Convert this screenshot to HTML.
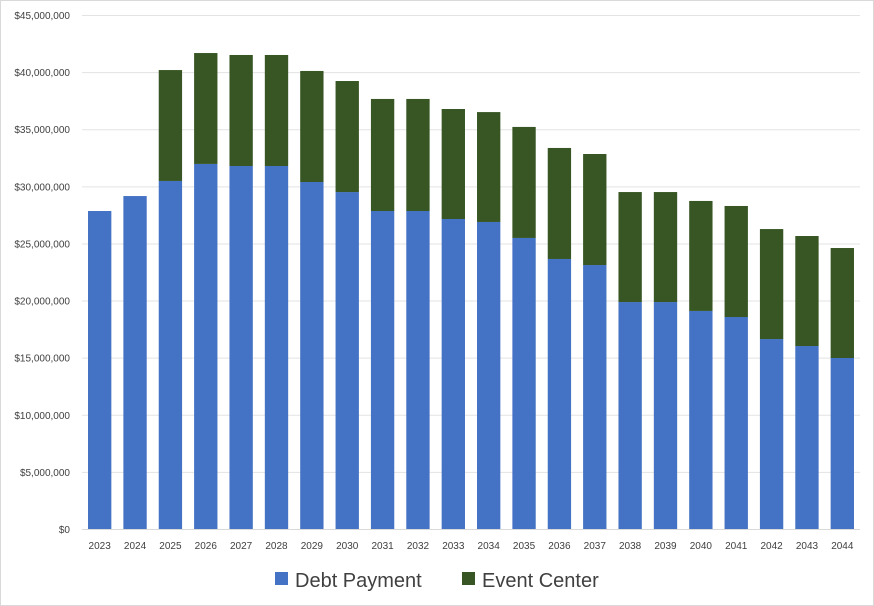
<!DOCTYPE html>
<html><head><meta charset="utf-8"><style>
body{margin:0;background:#fff;}
svg{display:block;font-family:"Liberation Sans",Arial,sans-serif;}
</style></head><body>
<svg id="chart" width="874" height="606">
<rect x="0.5" y="0.5" width="873" height="605" fill="#fff" stroke="#d9d9d9"/>
<g id="grid"></g><g id="bars"></g><g id="axes"></g>
<g>
<rect x="275" y="572" width="13" height="13" fill="#4472c4"/>
<text x="295" y="587" font-size="20" fill="#404040">Debt Payment</text>
<rect x="462" y="572" width="13" height="13" fill="#375623"/>
<text x="482" y="587" font-size="20" fill="#404040">Event Center</text>
</g>
</svg>
<script>
const categories=["2023","2024","2025","2026","2027","2028","2029","2030","2031","2032","2033","2034","2035","2036","2037","2038","2039","2040","2041","2042","2043","2044"];
const debtPayment=[27.84,29.15,30.47,31.96,31.78,31.78,30.38,29.5,27.84,27.84,27.14,26.88,25.48,23.64,23.11,19.87,19.87,19.09,18.56,16.63,16.02,14.97];
const eventCenter=[0,0,9.71,9.71,9.72,9.72,9.72,9.72,9.81,9.81,9.63,9.62,9.72,9.72,9.72,9.63,9.63,9.63,9.72,9.63,9.63,9.63];
const yTicks=[0,5,10,15,20,25,30,35,40,45];
const yTickLabels=["$0","$5,000,000","$10,000,000","$15,000,000","$20,000,000","$25,000,000","$30,000,000","$35,000,000","$40,000,000","$45,000,000"];
const NS="http://www.w3.org/2000/svg";
const x0=82,x1=860,yBase=529,yTop=15,yMax=45;
const step=(x1-x0)/categories.length,bw=step*0.66;
const y=v=>yBase-(v/yMax)*(yBase-yTop);
const xc=i=>x0+step*(i+0.5);
function mk(t,a,p){const e=document.createElementNS(NS,t);for(const k in a)e.setAttribute(k,a[k]);p.appendChild(e);return e;}
const grid=document.getElementById('grid'),bars=document.getElementById('bars'),axes=document.getElementById('axes');
yTicks.forEach((t,i)=>{
 const l=mk('line',{x1:x0,x2:x1,y1:y(t)+0.5,y2:y(t)+0.5,stroke:i==0?'#d9d9d9':'#e3e3e3'},grid);
 
 
 const tx=mk('text',{x:x0-12,y:y(t)+4,'font-size':10,fill:'#404040','text-anchor':'end'},axes);
 tx.textContent=yTickLabels[i];
 
 
});
categories.forEach((c,i)=>{
 const b=mk('rect',{x:xc(i)-bw/2,y:y(debtPayment[i]),width:bw,height:y(0)-y(debtPayment[i]),fill:'#4472c4'},bars);
 
 
 if(eventCenter[i]>0){
  const tot=debtPayment[i]+eventCenter[i];
  const e=mk('rect',{x:xc(i)-bw/2,y:y(tot),width:bw,height:y(debtPayment[i])-y(tot),fill:'#375623'},bars);
  
  
 }
 const tx=mk('text',{x:xc(i),y:549,'font-size':10,fill:'#404040','text-anchor':'middle'},axes);
 tx.textContent=c;
 
 
});
</script>
</body></html>
